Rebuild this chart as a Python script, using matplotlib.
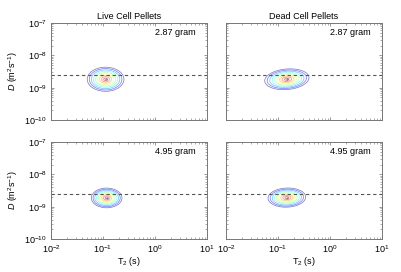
import numpy as np
import matplotlib
matplotlib.use("Agg")
from matplotlib import pyplot as plt
from matplotlib.ticker import LogLocator, NullFormatter

# column titles and panel labels
col_titles = ["Live Cell Pellets", "Dead Cell Pellets"]
mass_labels = ["2.87 gram", "4.95 gram"]

# peak parameters (log10 T2 centre, log10 D centre, half-width T2, half-width D, tilt deg)
# rows: 2.87 gram, 4.95 gram ; cols: live, dead
peak_t2 = [[-0.95, -0.83], [-0.93, -0.83]]
peak_d = [[-8.74, -8.74], [-8.73, -8.72]]
width_t2 = [[0.36, 0.44], [0.30, 0.37]]
width_d = [[0.38, 0.32], [0.31, 0.30]]
tilt = [[0, 14], [0, 8]]

D_water = 2.55e-9  # dashed reference line

xlim = (1e-2, 1e1)
ylim = (1e-10, 1e-7)

plt.rcParams['font.family'] = ['Liberation Sans', 'DejaVu Sans']
plt.rcParams['font.size'] = 6.5
plt.rcParams['mathtext.fontset'] = 'custom'
plt.rcParams['mathtext.rm'] = 'Liberation Sans'
plt.rcParams['mathtext.it'] = 'Liberation Sans:italic'

fig = plt.figure(figsize=(4.02, 2.72), dpi=100)

lefts = [51 / 402, 226 / 402]
bottoms = [1 - 120 / 272, 1 - 239 / 272]
w = 156 / 402
h = 97 / 272

lx = np.linspace(-2, 1, 500)
ly = np.linspace(-10, -7, 500)
LX, LY = np.meshgrid(lx, ly)
levels = np.linspace(0.02, 0.9, 9)

for r in range(2):
    for c in range(2):
        ax = fig.add_axes([lefts[c], bottoms[r], w, h])
        th = np.deg2rad(tilt[r][c])
        dx = LX - peak_t2[r][c]
        dy = LY - peak_d[r][c]
        u = dx * np.cos(th) + dy * np.sin(th)
        v = -dx * np.sin(th) + dy * np.cos(th)
        rad = np.sqrt((u / width_t2[r][c]) ** 2 + (v / width_d[r][c]) ** 2)
        Z = np.clip(1 - rad, 0, None)
        ax.contour(10 ** LX, 10 ** LY, Z, levels=levels, cmap='jet',
                   linewidths=0.55, alpha=0.5)
        ax.plot(10 ** peak_t2[r][c], 10 ** peak_d[r][c], '.', color='#888888', ms=1.2)
        ax.axhline(D_water, color='#555555', ls=(0, (3, 2.5)), lw=0.8)
        ax.set_xscale('log')
        ax.set_yscale('log')
        ax.set_xlim(xlim)
        ax.set_ylim(ylim)
        ax.xaxis.set_major_locator(LogLocator(base=10, numticks=10))
        ax.yaxis.set_major_locator(LogLocator(base=10, numticks=10))
        ax.xaxis.set_minor_locator(LogLocator(base=10, subs=np.arange(2, 10), numticks=10))
        ax.yaxis.set_minor_locator(LogLocator(base=10, subs=np.arange(2, 10), numticks=10))
        ax.yaxis.set_minor_formatter(NullFormatter())
        ax.xaxis.set_minor_formatter(NullFormatter())
        ax.tick_params(which='both', direction='in', top=True, right=True,
                       color='#888888', labelsize=6.5, pad=3)
        ax.tick_params(which='major', length=2.5, width=0.6)
        ax.tick_params(which='minor', length=1.5, width=0.5)
        for s in ax.spines.values():
            s.set_color('#777777')
            s.set_linewidth(0.7)
        ax.text(0.93, 0.9, mass_labels[r], transform=ax.transAxes,
                ha='right', va='center', fontsize=6.5)
        if r == 0:
            ax.set_title(col_titles[c], fontsize=6.5, pad=3)
            ax.tick_params(labelbottom=False)
        else:
            ax.set_xlabel(r'T$_2$ (s)', fontsize=6.5, labelpad=0)
        if c == 0:
            ax.set_ylabel(r'$D$ (m$^2$s$^{-1}$)', fontsize=6.5, labelpad=3)
        else:
            ax.tick_params(labelleft=False)

fig.savefig("out.png", dpi=100)
